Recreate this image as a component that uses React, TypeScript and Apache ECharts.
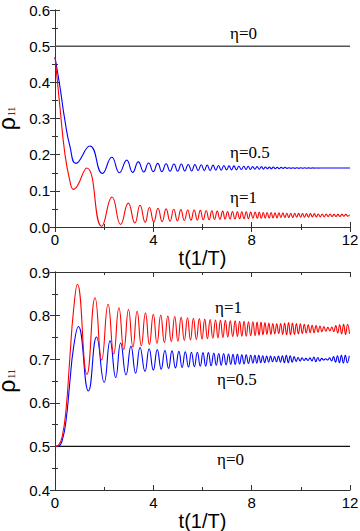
import React, { useEffect, useRef } from "react";
import * as echarts from "echarts";

// x-axis tick values and y-axis ranges
const xTicks = [0, 4, 8, 12];
const topYRange = [0, 0.6];
const botYRange = [0.4, 0.9];

// Top panel, eta = 0.5 (blue): [t, rho11] at the extrema
const topBlue: [number, number][] = [
  [0, 0.47], [0.2, 0.388], [0.4, 0.296], [0.61, 0.222], [0.85, 0.176], [1.42, 0.224], [1.93, 0.148], [2.31, 0.193],
  [2.62, 0.15], [2.92, 0.185], [3.16, 0.151], [3.39, 0.18], [3.61, 0.152], [3.81, 0.177], [4.0, 0.153], [4.18, 0.176],
  [4.35, 0.153], [4.52, 0.175], [4.68, 0.154], [4.84, 0.174], [4.99, 0.154], [5.14, 0.174], [5.28, 0.155], [5.42, 0.173],
  [5.56, 0.155], [5.69, 0.173], [5.82, 0.156], [5.95, 0.172], [6.07, 0.156], [6.19, 0.171], [6.31, 0.156], [6.43, 0.171],
  [6.54, 0.157], [6.65, 0.17], [6.76, 0.157], [6.87, 0.17], [6.98, 0.158], [7.08, 0.169], [7.18, 0.158], [7.28, 0.169],
  [7.38, 0.158], [7.48, 0.168], [7.58, 0.159], [7.68, 0.168], [7.77, 0.159], [7.86, 0.168], [7.95, 0.159], [8.04, 0.167],
  [8.13, 0.16], [8.22, 0.167], [8.31, 0.16], [8.4, 0.167], [8.48, 0.16], [8.56, 0.166], [8.64, 0.161], [8.72, 0.166],
  [8.8, 0.161], [8.88, 0.166], [8.96, 0.161], [9.04, 0.165], [9.12, 0.161], [9.2, 0.165], [9.28, 0.162], [9.36, 0.165],
  [9.44, 0.162], [9.52, 0.164], [9.6, 0.162], [9.68, 0.164], [9.76, 0.162], [9.84, 0.164], [9.92, 0.162], [10.0, 0.164],
  [10.08, 0.1625], [10.16, 0.1638], [10.24, 0.1625], [10.32, 0.1636], [10.4, 0.1626], [10.48, 0.1634], [10.56, 0.1628],
  [10.64, 0.1633], [10.72, 0.1629], [10.8, 0.1632], [11.4, 0.163], [12, 0.163],
];

// Top panel, eta = 1 (red)
const topRed: [number, number][] = [
  [0, 0.47], [0.2, 0.332], [0.4, 0.204], [0.6, 0.129], [0.75, 0.104], [1.29, 0.163], [1.9, 0.002], [2.32, 0.083],
  [2.67, 0.007], [2.98, 0.066], [3.25, 0.011], [3.46, 0.06], [3.67, 0.013], [3.84, 0.054], [4.02, 0.014], [4.19, 0.052],
  [4.36, 0.015], [4.52, 0.05], [4.68, 0.016], [4.83, 0.049], [4.98, 0.017], [5.12, 0.048], [5.26, 0.018], [5.4, 0.047],
  [5.53, 0.019], [5.66, 0.047], [5.79, 0.019], [5.91, 0.046], [6.03, 0.02], [6.15, 0.045], [6.27, 0.02], [6.38, 0.045],
  [6.49, 0.021], [6.6, 0.044], [6.71, 0.021], [6.82, 0.044], [6.92, 0.022], [7.02, 0.043], [7.12, 0.022], [7.22, 0.043],
  [7.32, 0.022], [7.42, 0.042], [7.51, 0.023], [7.6, 0.042], [7.69, 0.023], [7.78, 0.042], [7.87, 0.023], [7.96, 0.041],
  [8.05, 0.024], [8.14, 0.041], [8.23, 0.024], [8.31, 0.041], [8.39, 0.024], [8.47, 0.04], [8.55, 0.025], [8.63, 0.04],
  [8.71, 0.025], [8.79, 0.04], [8.87, 0.025], [8.95, 0.039], [9.03, 0.025], [9.11, 0.039], [9.19, 0.026], [9.27, 0.039],
  [9.35, 0.026], [9.43, 0.038], [9.51, 0.026], [9.59, 0.038], [9.67, 0.026], [9.75, 0.038], [9.83, 0.027], [9.91, 0.038],
  [9.99, 0.027], [10.07, 0.037], [10.15, 0.027], [10.23, 0.037], [10.31, 0.027], [10.39, 0.037], [10.47, 0.028],
  [10.55, 0.037], [10.63, 0.028], [10.71, 0.036], [10.79, 0.028], [10.87, 0.036], [10.95, 0.028], [11.03, 0.036],
  [11.11, 0.029], [11.19, 0.036], [11.27, 0.029], [11.35, 0.035], [11.43, 0.029], [11.51, 0.035], [11.59, 0.029],
  [11.67, 0.035], [11.75, 0.03], [11.83, 0.035], [11.91, 0.03], [11.99, 0.034],
];

// Top panel, eta = 0
const topZero: [number, number][] = [[0, 0.5], [12, 0.5]];

// Bottom panel, eta = 1 (red)
const botRed: [number, number][] = [
  [0, 0.5], [0.15, 0.503], [0.3, 0.525], [0.45, 0.585], [0.6, 0.7], [0.75, 0.81], [0.91, 0.872], [1.3, 0.665],
  [1.63, 0.841], [1.9, 0.698], [2.16, 0.826], [2.39, 0.712], [2.6, 0.818], [2.8, 0.722], [2.99, 0.814], [3.17, 0.728],
  [3.34, 0.81], [3.51, 0.731], [3.68, 0.806], [3.84, 0.734], [4.0, 0.803], [4.15, 0.736], [4.3, 0.801], [4.45, 0.738],
  [4.59, 0.799], [4.73, 0.74], [4.87, 0.798], [5.0, 0.741], [5.13, 0.796], [5.26, 0.743], [5.39, 0.795], [5.51, 0.744],
  [5.63, 0.794], [5.75, 0.745], [5.87, 0.793], [5.98, 0.746], [6.09, 0.792], [6.2, 0.747], [6.31, 0.791], [6.42, 0.748],
  [6.53, 0.79], [6.63, 0.749], [6.73, 0.789], [6.83, 0.75], [6.93, 0.789], [7.03, 0.751], [7.13, 0.788], [7.23, 0.752],
  [7.33, 0.788], [7.42, 0.752], [7.51, 0.787], [7.6, 0.753], [7.69, 0.787], [7.78, 0.753], [7.87, 0.786], [7.96, 0.754],
  [8.05, 0.786], [8.14, 0.754], [8.22, 0.785], [8.3, 0.755], [8.38, 0.785], [8.46, 0.756], [8.54, 0.784], [8.62, 0.757],
  [8.7, 0.783], [8.78, 0.757], [8.86, 0.782], [8.94, 0.758], [9.02, 0.781], [9.1, 0.759], [9.18, 0.782], [9.26, 0.757],
  [9.34, 0.783], [9.42, 0.756], [9.5, 0.784], [9.58, 0.756], [9.66, 0.783], [9.74, 0.757], [9.82, 0.782], [9.9, 0.758],
  [9.98, 0.781], [10.06, 0.759], [10.14, 0.78], [10.22, 0.76], [10.3, 0.779], [10.38, 0.761], [10.46, 0.778],
  [10.54, 0.761], [10.62, 0.777], [10.7, 0.762], [10.78, 0.776], [10.86, 0.763], [10.94, 0.775], [11.02, 0.764],
  [11.1, 0.773], [11.18, 0.765], [11.26, 0.774], [11.34, 0.763], [11.42, 0.777], [11.5, 0.76], [11.58, 0.779],
  [11.66, 0.758], [11.74, 0.78], [11.82, 0.757], [11.9, 0.78], [11.98, 0.758],
];

// Bottom panel, eta = 0.5 (blue)
const botBlue: [number, number][] = [
  [0, 0.5], [0.15, 0.501], [0.3, 0.515], [0.45, 0.56], [0.6, 0.645], [0.75, 0.725], [0.95, 0.775], [1.36, 0.627],
  [1.69, 0.751], [2.0, 0.647], [2.24, 0.742], [2.47, 0.658], [2.67, 0.737], [2.89, 0.664], [3.09, 0.73], [3.28, 0.668],
  [3.46, 0.727], [3.66, 0.672], [3.83, 0.724], [4.0, 0.675], [4.16, 0.722], [4.32, 0.677], [4.47, 0.72], [4.62, 0.679],
  [4.76, 0.719], [4.9, 0.68], [5.04, 0.718], [5.17, 0.681], [5.3, 0.717], [5.43, 0.682], [5.55, 0.716], [5.67, 0.683],
  [5.79, 0.716], [5.91, 0.684], [6.02, 0.715], [6.13, 0.684], [6.24, 0.715], [6.35, 0.685], [6.46, 0.714], [6.56, 0.686],
  [6.66, 0.713], [6.76, 0.686], [6.86, 0.713], [6.96, 0.687], [7.06, 0.712], [7.15, 0.688], [7.24, 0.711], [7.33, 0.688],
  [7.42, 0.711], [7.51, 0.689], [7.6, 0.71], [7.69, 0.689], [7.78, 0.71], [7.87, 0.69], [7.96, 0.709], [8.05, 0.691],
  [8.13, 0.709], [8.21, 0.691], [8.29, 0.709], [8.37, 0.692], [8.45, 0.708], [8.53, 0.692], [8.61, 0.707], [8.69, 0.693],
  [8.77, 0.707], [8.85, 0.694], [8.93, 0.706], [9.01, 0.694], [9.09, 0.707], [9.17, 0.693], [9.25, 0.708], [9.33, 0.692],
  [9.41, 0.709], [9.49, 0.692], [9.57, 0.708], [9.65, 0.693], [9.73, 0.706], [9.81, 0.695], [9.89, 0.704], [9.97, 0.696],
  [10.05, 0.703], [10.13, 0.697], [10.21, 0.702], [10.29, 0.697], [10.37, 0.703], [10.45, 0.696], [10.53, 0.705],
  [10.61, 0.694], [10.69, 0.704], [10.77, 0.696], [10.85, 0.702], [10.93, 0.698], [11.01, 0.701], [11.09, 0.698],
  [11.17, 0.703], [11.25, 0.696], [11.33, 0.706], [11.41, 0.693], [11.49, 0.708], [11.57, 0.692], [11.65, 0.709],
  [11.73, 0.691], [11.81, 0.709], [11.89, 0.692], [11.97, 0.708],
];

// Bottom panel, eta = 0
const botZero: [number, number][] = [[0, 0.5], [12, 0.5]];

// Curve labels
const topLabels = ["η=0", "η=0.5", "η=1"];
const botLabels = ["η=1", "η=0.5", "η=0"];

export default function App() {
  const ref = useRef<HTMLDivElement>(null);
  useEffect(() => {
    const chart = echarts.init(ref.current!, null, { renderer: "svg" });
    const sans = "Liberation Sans";
    const serif = "Liberation Serif";
    const axisColor = "#333";
    const lineStyle = { color: axisColor, width: 1 };

    const xAxisBottom = (gridIndex: number, gap: number) => ({
      type: "value",
      gridIndex,
      position: "bottom",
      min: xTicks[0],
      max: xTicks[xTicks.length - 1],
      interval: xTicks[1] - xTicks[0],
      axisLine: { show: true, lineStyle },
      axisTick: { show: true, inside: true, length: 5, lineStyle },
      minorTick: { show: true, splitNumber: 2, length: 3, lineStyle },
      splitLine: { show: false },
      axisLabel: { color: "#000", fontSize: 15, margin: 5, fontFamily: sans },
      name: "t(1/T)",
      nameLocation: "middle",
      nameGap: gap,
      nameTextStyle: { color: "#000", fontSize: 20, fontFamily: sans, lineHeight: 21 },
    });
    const xAxisTop = (gridIndex: number) => ({
      type: "value",
      gridIndex,
      position: "top",
      min: xTicks[0],
      max: xTicks[xTicks.length - 1],
      interval: xTicks[1] - xTicks[0],
      axisLine: { show: true, lineStyle },
      axisTick: { show: true, inside: true, length: 5, lineStyle },
      minorTick: { show: true, splitNumber: 2, length: 3, lineStyle },
      splitLine: { show: false },
      axisLabel: { show: false },
    });
    const yAxisLeft = (gridIndex: number, range: number[]) => ({
      type: "value",
      gridIndex,
      position: "left",
      min: range[0],
      max: range[1],
      interval: 0.1,
      axisLine: { show: true, lineStyle },
      axisTick: { show: true, inside: true, length: 5, lineStyle },
      minorTick: { show: true, splitNumber: 2, length: 3, lineStyle },
      splitLine: { show: false },
      axisLabel: {
        color: "#000",
        fontSize: 15,
        margin: 5,
        fontFamily: sans,
        formatter: (v: number) => v.toFixed(1),
      },
      name: "{r|ρ}{s|11}",
      nameLocation: "middle",
      nameRotate: 90,
      nameGap: 30,
      nameTextStyle: {
        color: "#000",
        rich: {
          r: { fontSize: 23, lineHeight: 20, fontFamily: sans, color: "#000" },
          s: { fontSize: 10, lineHeight: 20, fontFamily: serif, color: "#000", verticalAlign: "bottom", padding: [0, 0, 0, 1] },
        },
      },
    });
    const yAxisRight = (gridIndex: number, range: number[]) => ({
      type: "value",
      gridIndex,
      position: "right",
      min: range[0],
      max: range[1],
      interval: 0.1,
      axisLine: { show: true, lineStyle },
      axisTick: { show: true, inside: true, length: 5, lineStyle },
      minorTick: { show: true, splitNumber: 2, length: 3, lineStyle },
      splitLine: { show: false },
      axisLabel: { show: false },
    });

    const line = (data: [number, number][], color: string, xi: number, yi: number, width = 1.1, smooth: number | boolean = 0.5) => ({
      type: "line",
      xAxisIndex: xi,
      yAxisIndex: yi,
      data,
      showSymbol: false,
      symbol: "none",
      smooth,
      lineStyle: { color, width },
      silent: true,
    });

    const label = (text: string, x: number, y: number) => ({
      type: "text",
      x,
      y,
      style: {
        text,
        fill: "#000",
        fontSize: 17,
        fontFamily: "'Liberation Serif', 'Times New Roman', serif",
        textVerticalAlign: "top",
      },
      silent: true,
    });

    chart.setOption({
      animation: false,
      backgroundColor: "#fff",
      grid: [
        { left: 55, top: 10, width: 295, height: 217, containLabel: false, outerBoundsMode: "none" },
        { left: 55, top: 272, width: 295, height: 218, containLabel: false, outerBoundsMode: "none" },
      ],
      xAxis: [xAxisBottom(0, 17), xAxisTop(0), xAxisBottom(1, 13), xAxisTop(1)],
      yAxis: [
        yAxisLeft(0, topYRange),
        yAxisRight(0, topYRange),
        yAxisLeft(1, botYRange),
        yAxisRight(1, botYRange),
      ],
      series: [
        line(topZero, "#555", 0, 0, 1.5, false),
        line(topBlue, "#0000ff", 0, 0),
        line(topRed, "#ff0000", 0, 0),
        line(botZero, "#111", 2, 2, 1.3, false),
        line(botBlue, "#0000ff", 2, 2),
        line(botRed, "#ff0000", 2, 2),
      ],
      graphic: [
        label(topLabels[0], 230, 25),
        label(topLabels[1], 230, 144),
        label(topLabels[2], 230, 189),
        label(botLabels[0], 215, 299),
        label(botLabels[1], 217, 371),
        label(botLabels[2], 217, 451),
      ],
    });
    return () => chart.dispose();
  }, []);
  return (
    <div
      ref={ref}
      style={{ position: "absolute", left: 0, top: 0, width: 360, height: 531, background: "#fff" }}
    />
  );
}
